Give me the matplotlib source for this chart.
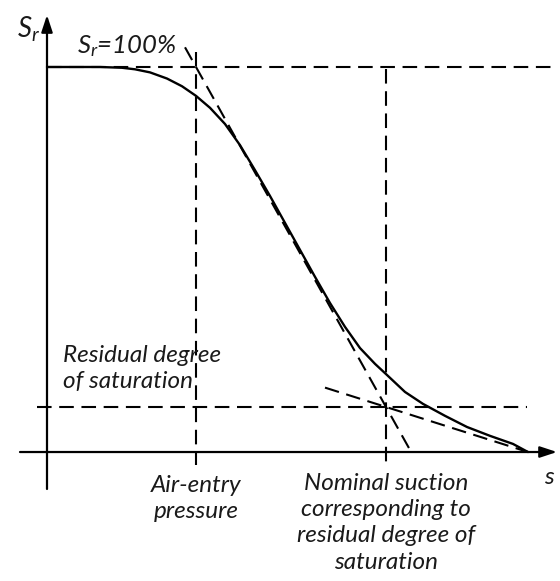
import matplotlib
matplotlib.use("Agg")
import matplotlib.pyplot as plt

plt.rcParams["font.family"] = ["Lato", "DejaVu Sans"]
plt.rcParams["mathtext.fontset"] = "custom"
plt.rcParams["mathtext.it"] = "Lato:italic"
plt.rcParams["mathtext.rm"] = "Lato:italic"
plt.rcParams["lines.scale_dashes"] = False

# soil-water retention curve: suction s (arbitrary units) vs degree of saturation Sr (%)
suction = [0.00, 0.53, 0.75, 0.88, 1.03, 1.20, 1.35, 1.49, 1.63, 1.78, 1.93, 2.08,
           2.23, 2.38, 2.53, 2.68, 2.83, 2.98, 3.13, 3.28, 3.40, 3.58, 3.76,
           3.98, 4.20, 4.43, 4.66, 4.81]
saturation = [100.0, 100.0, 99.8, 99.4, 98.6, 97.0, 95.0, 92.5, 89.4, 85.2, 79.7, 73.2,
              66.5, 59.5, 52.5, 45.5, 38.7, 32.5, 27.0, 22.9, 20.0, 15.6, 12.5,
              9.4, 6.5, 4.2, 2.1, 0.0]

s_air_entry = 1.49
s_residual = 3.39
sr_full = 100.0
sr_residual = 11.7
s_end = 4.81

fig = plt.figure(figsize=(5.6, 5.81), dpi=100)
ax = fig.add_axes([0, 0, 1, 1])
ax.set_xlim(-0.47, 5.13)
ax.set_ylim(-33.5, 117.4)
ax.axis("off")

dash = dict(color="black", lw=1.5, dashes=(10.5, 5.5))
arrow = dict(arrowstyle="-|>,head_length=0.85,head_width=0.28", lw=1.6,
             color="black", mutation_scale=12, shrinkA=0, shrinkB=0)

# axes with arrows
ax.annotate("", xy=(0, 113.5), xytext=(0, -9.6), arrowprops=arrow)
ax.annotate("", xy=(5.10, 0), xytext=(-0.27, 0), arrowprops=arrow)

# reference lines
ax.plot([0, 5.08], [sr_full, sr_full], **dash)
ax.plot([-0.10, 4.80], [sr_residual, sr_residual], **dash)
ax.plot([s_air_entry, s_air_entry], [104.0, -3.4], **dash)
ax.plot([s_residual, s_residual], [99.5, -3.4], **dash)

# tangent through the air-entry point and the residual point
k1 = (sr_residual - sr_full) / (s_residual - s_air_entry)
t1_s = [1.38, s_air_entry - sr_full / k1]
ax.plot(t1_s, [sr_full + k1 * (x - s_air_entry) for x in t1_s], **dash)

# tangent to the residual branch
k2 = (0 - sr_residual) / (s_end - s_residual)
t2_s = [2.78, s_end]
ax.plot(t2_s, [sr_residual + k2 * (x - s_residual) for x in t2_s], **dash)

# retention curve
ax.plot(suction, saturation, color="black", lw=1.7, solid_capstyle="round",
        solid_joinstyle="round")

# labels
txt = dict(fontsize=17.5, style="italic", color="#1a1a1a")
ax.text(-0.18, 109.8, "$S_r$", ha="center", va="center", fontsize=20, color="#1a1a1a")
ax.text(0.30, 105.5, "$S_r$=100%", ha="left", va="center", **dict(txt, fontsize=18.5))
ax.text(0.16, 21.6, "Residual degree\nof saturation", ha="left", va="center",
        linespacing=1.3, **txt)
ax.text(s_air_entry, -12.1, "Air-entry\npressure", ha="center", va="center",
        linespacing=1.3, **txt)
ax.text(s_residual, -18.4, "Nominal suction\ncorresponding to\nresidual degree of\nsaturation",
        ha="center", va="center", linespacing=1.3, **txt)
ax.text(5.02, -6.6, "s", ha="center", va="center", **txt)

fig.savefig("out.png", dpi=100)
